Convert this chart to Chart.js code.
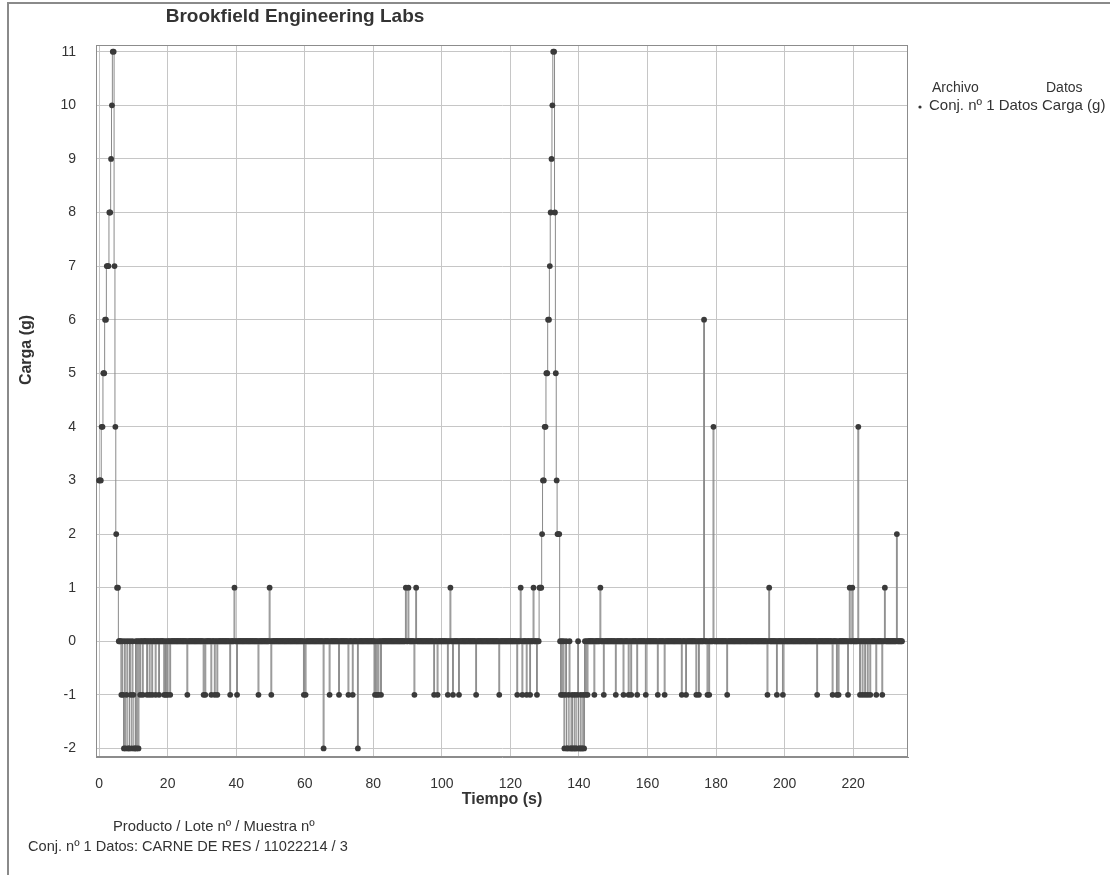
<!DOCTYPE html>
<html>
<head>
<meta charset="utf-8">
<title>Brookfield Engineering Labs</title>
<script src="https://cdn.jsdelivr.net/npm/chart.js@4.4.1/dist/chart.umd.min.js"></script>
<style>
  body { margin: 0; background: #fff; }
  canvas { display: block; }
</style>
</head>
<body>
<canvas id="myChart" width="1110" height="875"></canvas>
<script>
// una muestra cada 0.25 s
var paso = 0.25;

var carga = [
  // 0 - 10 s
  3,3,3,4,4,5,5,6,6,7,  7,7,8,8,9,10,11,11,7,4,  2,1,1,0,0,0,-1,0,-1,-2,  0,-2,-1,0,-2,-2,0,-1,-2,0,
  // 10 - 20 s
  -1,-2,-2,0,-2,0,-2,0,-1,0,  0,-1,0,0,0,0,-1,0,0,-1,  0,0,-1,0,0,0,-1,0,0,0,  -1,0,0,0,0,0,-1,0,-1,0,
  // 20 - 30 s
  -1,0,0,-1,0,0,0,0,0,0,  0,0,0,0,0,0,0,0,0,0,  0,0,0,-1,0,0,0,0,0,0,  0,0,0,0,0,0,0,0,0,0,
  // 30 - 40 s
  0,0,-1,0,-1,0,0,0,0,0,  0,-1,0,0,0,-1,0,0,-1,0,  0,0,0,0,0,0,0,0,0,0,  0,0,0,-1,0,0,0,0,1,0,
  // 40 - 50 s
  0,-1,0,0,0,0,0,0,0,0,  0,0,0,0,0,0,0,0,0,0,  0,0,0,0,0,0,-1,0,0,0,  0,0,0,0,0,0,0,0,0,1,
  // 50 - 60 s
  0,-1,0,0,0,0,0,0,0,0,  0,0,0,0,0,0,0,0,0,0,  0,0,0,0,0,0,0,0,0,0,  0,0,0,0,0,0,0,0,0,-1,
  // 60 - 70 s
  0,-1,0,0,0,0,0,0,0,0,  0,0,0,0,0,0,0,0,0,0,  0,0,-2,0,0,0,0,0,0,-1,  0,0,0,0,0,0,0,0,0,0,
  // 70 - 80 s
  -1,0,0,0,0,0,0,0,0,0,  0,-1,0,0,0,0,-1,0,0,0,  0,0,-2,0,0,0,0,0,0,0,  0,0,0,0,0,0,0,0,0,0,
  // 80 - 90 s
  0,0,-1,0,-1,0,-1,0,0,-1,  0,0,0,0,0,0,0,0,0,0,  0,0,0,0,0,0,0,0,0,0,  0,0,0,0,0,0,0,0,1,0,
  // 90 - 100 s
  0,1,0,0,0,0,0,0,-1,0,  1,0,0,0,0,0,0,0,0,0,  0,0,0,0,0,0,0,0,0,0,  0,-1,0,0,0,-1,0,0,0,0,
  // 100 - 110 s
  0,0,0,0,0,0,0,-1,0,0,  1,0,0,-1,0,0,0,0,0,0,  -1,0,0,0,0,0,0,0,0,0,  0,0,0,0,0,0,0,0,0,0,
  // 110 - 120 s
  -1,0,0,0,0,0,0,0,0,0,  0,0,0,0,0,0,0,0,0,0,  0,0,0,0,0,0,0,-1,0,0,  0,0,0,0,0,0,0,0,0,0,
  // 120 - 130 s
  0,0,0,0,0,0,0,0,-1,0,  0,0,1,0,-1,0,0,0,0,-1,  0,0,0,-1,0,0,0,1,0,0,  0,-1,0,0,1,1,1,2,3,3,
  // 130 - 140 s
  4,4,5,5,6,6,7,8,9,10,  11,11,8,5,3,2,2,2,0,-1,  0,-1,0,-2,-1,0,-2,-2,-1,0,  -2,-2,-1,-2,-2,-1,-2,-2,-1,0,
  // 140 - 150 s
  -2,-2,-1,-2,-2,-1,-2,0,-1,0,  -1,0,0,0,0,0,0,0,-1,0,  0,0,0,0,0,1,0,0,0,-1,  0,0,0,0,0,0,0,0,0,0,
  // 150 - 160 s
  0,0,0,-1,0,0,0,0,0,0,  0,0,-1,0,0,0,0,0,-1,0,  0,-1,0,0,0,0,0,0,-1,0,  0,0,0,0,0,0,0,0,-1,0,
  // 160 - 170 s
  0,0,0,0,0,0,0,0,0,0,  0,0,-1,0,0,0,0,0,0,0,  -1,0,0,0,0,0,0,0,0,0,  0,0,0,0,0,0,0,0,0,0,
  // 170 - 180 s
  -1,0,0,0,0,-1,0,0,0,0,  0,0,0,0,0,0,0,-1,0,0,  -1,0,0,0,0,0,6,0,0,0,  -1,0,-1,0,0,0,0,4,0,0,
  // 180 - 190 s
  0,0,0,0,0,0,0,0,0,0,  0,0,0,-1,0,0,0,0,0,0,  0,0,0,0,0,0,0,0,0,0,  0,0,0,0,0,0,0,0,0,0,
  // 190 - 200 s
  0,0,0,0,0,0,0,0,0,0,  0,0,0,0,0,0,0,0,0,0,  -1,0,1,0,0,0,0,0,0,0,  0,-1,0,0,0,0,0,0,-1,0,
  // 200 - 210 s
  0,0,0,0,0,0,0,0,0,0,  0,0,0,0,0,0,0,0,0,0,  0,0,0,0,0,0,0,0,0,0,  0,0,0,0,0,0,0,0,-1,0,
  // 210 - 220 s
  0,0,0,0,0,0,0,0,0,0,  0,0,0,0,0,0,-1,0,0,0,  0,-1,0,-1,0,0,0,0,0,0,  0,0,0,0,-1,0,1,0,0,1,
  // 220 - 230 s
  0,0,0,0,0,0,4,0,-1,0,  0,-1,0,0,-1,0,0,-1,0,0,  -1,0,0,0,0,0,0,-1,0,0,  0,0,0,0,-1,0,0,1,0,0,
  // 230 - 234.25 s
  0,0,0,0,0,0,0,0,0,0,  0,2,0,0,0,0,0,0
];

var tiempo = carga.map(function (v, i) { return i * paso; });

var ticksX = [0, 20, 40, 60, 80, 100, 120, 140, 160, 180, 200, 220];
var ticksY = [-2, -1, 0, 1, 2, 3, 4, 5, 6, 7, 8, 9, 10, 11];

var fuente = "'Liberation Sans', Arial, sans-serif";
Chart.defaults.font.family = fuente;
Chart.defaults.color = '#333';

// marco del grafico y textos sueltos (titulo, leyenda, pie)
var extras = {
    id: 'extras',
    beforeDatasetsDraw: function (chart) {
        var a = chart.chartArea, c = chart.ctx;
        c.save();
        c.strokeStyle = '#8c8c8c';
        c.lineWidth = 1;
        c.strokeRect(a.left + 0.5, a.top + 0.5, a.width - 1, a.height - 1);
        c.restore();
    },
    afterDraw: function (chart) {
        var c = chart.ctx;
        c.save();
        // borde de la hoja
        c.strokeStyle = '#8a8a8a';
        c.lineWidth = 2;
        c.beginPath();
        c.moveTo(8, 875);
        c.lineTo(8, 3);
        c.lineTo(1110, 3);
        c.stroke();

        c.fillStyle = '#333';
        c.textBaseline = 'middle';

        c.font = "bold 19px " + fuente;
        c.textAlign = 'center';
        c.fillText('Brookfield Engineering Labs', 295, 17);

        c.font = "bold 16px " + fuente;
        c.save();
        c.translate(27, 350);
        c.rotate(-Math.PI / 2);
        c.fillText('Carga (g)', 0, 0);
        c.restore();

        c.font = "14px " + fuente;
        c.textAlign = 'left';
        c.fillText('Archivo', 932, 88);
        c.fillText('Datos', 1046, 88);
        c.font = "15px " + fuente;
        c.fillText('Conj. nº 1 Datos Carga (g)', 929, 106);
        c.beginPath();
        c.arc(920, 107, 1.6, 0, Math.PI * 2);
        c.fill();

        c.font = "14.8px " + fuente;
        c.fillText('Producto / Lote nº / Muestra nº', 113, 827);
        c.font = "14.6px " + fuente;
        c.fillText('Conj. nº 1 Datos: CARNE DE RES / 11022214 / 3', 28, 847);
        c.restore();
    }
};

var ctx = document.getElementById("myChart").getContext('2d');

var myChart = new Chart(ctx, {
    type: 'line',
    data: {
        labels: tiempo,
        datasets: [
            {
                label: 'Conj. nº 1 Datos Carga (g)',
                data: carga,
                stepped: 'middle',
                borderColor: '#8a8a8a',
                borderWidth: 1,
                pointRadius: 2.9,
                pointBorderWidth: 0,
                pointBackgroundColor: '#3a3a3a',
                pointBorderColor: '#3a3a3a'
            }
        ]
    },
    options: {
        responsive: false,
        animation: false,
        events: [],
        layout: {
            padding: { left: 0, top: 45, right: 202, bottom: 58 }
        },
        plugins: {
            legend: { display: false },
            title: { display: false },
            tooltip: { enabled: false }
        },
        scales: {
            x: {
                type: 'linear',
                min: -0.9,
                max: 236,
                afterBuildTicks: function (s) {
                    s.ticks = ticksX.map(function (v) { return { value: v }; });
                },
                afterFit: function (s) { s.height = 60; },
                grid: { color: '#c6c6c6', drawTicks: false },
                border: { color: '#8c8c8c' },
                ticks: { autoSkip: false, maxRotation: 0, padding: 19, color: '#333', font: { size: 14 } },
                title: {
                    display: true,
                    text: 'Tiempo (s)',
                    color: '#333',
                    font: { size: 16, weight: 'bold' },
                    padding: { top: 0, bottom: 8 }
                }
            },
            y: {
                min: -2.16,
                max: 11.125,
                afterBuildTicks: function (s) {
                    s.ticks = ticksY.map(function (v) { return { value: v }; });
                },
                afterFit: function (s) { s.width = 96; },
                grid: { color: '#c6c6c6', drawTicks: false },
                border: { color: '#8c8c8c' },
                ticks: { autoSkip: false, padding: 20, color: '#333', font: { size: 14 } }
            }
        }
    },
    plugins: [extras]
});
</script>
</body>
</html>
